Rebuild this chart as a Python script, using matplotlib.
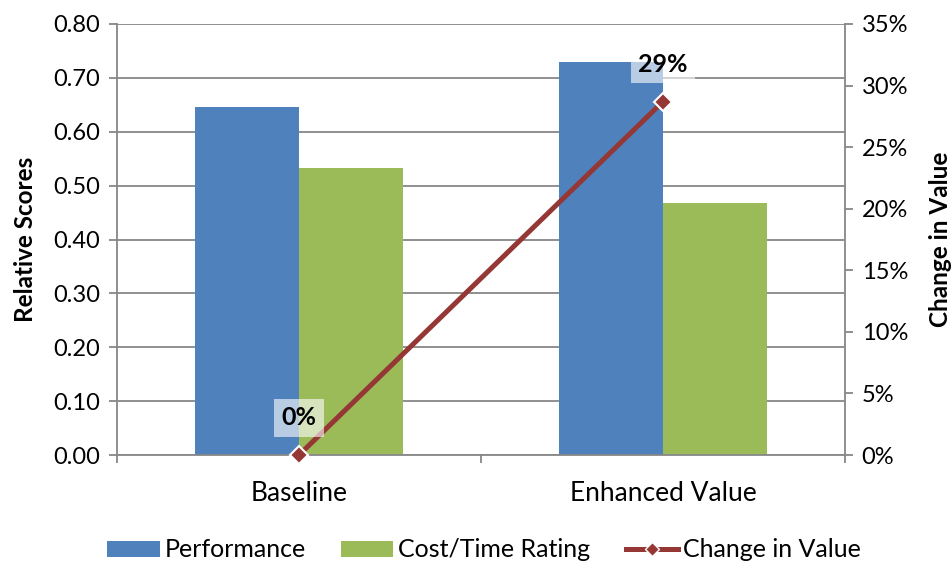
import numpy as np
import matplotlib
matplotlib.use('Agg')
import matplotlib.pyplot as plt
from matplotlib.lines import Line2D
from matplotlib.patches import Patch

plt.rcParams['font.family'] = ['Lato', 'DejaVu Sans']

categories = ['Baseline', 'Enhanced Value']
performance = [0.646, 0.730]
cost_time = [0.533, 0.468]
change_in_value = [0.0, 0.287]
change_labels = ['0%', '29%']

blue = '#4F81BD'
green = '#9BBB59'
red = '#953735'
grid_gray = '#878787'

fig = plt.figure(figsize=(9.53, 5.64), dpi=100)
ax = fig.add_axes([117 / 953, 109 / 564, 728 / 953, 431 / 564])
x = np.arange(len(categories))
w = 0.286

ax.bar(x - w / 2, performance, w, color=blue, zorder=2)
ax.bar(x + w / 2, cost_time, w, color=green, zorder=2)

ax.set_xlim(-0.5, 1.5)
ax.set_ylim(0, 0.8)
ax.set_yticks(np.arange(0, 0.81, 0.1))
ax.set_yticklabels([f'{v:.2f}' for v in np.arange(0, 0.81, 0.1)])
ax.yaxis.grid(True, color=grid_gray, lw=1.3, zorder=0)
ax.set_axisbelow(True)

# category labels sit between the boundary ticks
ax.set_xticks(x)
ax.set_xticklabels(categories)
ax.tick_params(axis='x', length=0, pad=19, labelsize=19)
ax.set_xticks([-0.5, 0.5, 1.5], minor=True)
ax.tick_params(axis='x', which='minor', length=6, width=1.3, color=grid_gray)
ax.tick_params(axis='y', length=6, width=1.3, color=grid_gray, labelsize=17, pad=6)

for side in ['top', 'right']:
    ax.spines[side].set_visible(False)
for side in ['left', 'bottom']:
    ax.spines[side].set_color(grid_gray)
    ax.spines[side].set_linewidth(1.3)
ax.set_ylabel('Relative Scores', fontsize=17.5, fontweight='bold', labelpad=12)

# secondary axis for the percentage change
ax2 = ax.twinx()
ax2.set_ylim(0, 0.35)
ax2.set_yticks(np.arange(0, 0.351, 0.05))
ax2.set_yticklabels([f'{v * 100:.0f}%' for v in np.arange(0, 0.351, 0.05)])
ax2.tick_params(axis='y', length=6, width=1.3, color=grid_gray, labelsize=17, pad=6)
for side in ['top', 'left', 'bottom']:
    ax2.spines[side].set_visible(False)
ax2.spines['right'].set_color(grid_gray)
ax2.spines['right'].set_linewidth(1.3)
ax2.set_ylabel('Change in Value', fontsize=17.5, fontweight='bold', labelpad=15)

ax2.plot(x, change_in_value, color=red, lw=3.6, marker='D', markersize=9,
         markerfacecolor=red, markeredgecolor='white', markeredgewidth=1.5,
         zorder=3, clip_on=False)

for xi, yi, lab in zip(x, change_in_value, change_labels):
    ax2.annotate(lab, (xi, yi), xytext=(0, 27), textcoords='offset points',
                 ha='center', va='center', fontsize=18, fontweight='bold',
                 bbox=dict(boxstyle='square,pad=0.3', facecolor='white',
                           edgecolor='none', alpha=0.6), zorder=4)

handles = [Patch(facecolor=blue, label='Performance'),
           Patch(facecolor=green, label='Cost/Time Rating'),
           Line2D([], [], color=red, lw=3.6, marker='D', markersize=7,
                  markerfacecolor=red, markeredgecolor='white',
                  label='Change in Value')]
fig.legend(handles=handles, loc='center', bbox_to_anchor=(0.508, 0.025),
           ncol=3, frameon=False, fontsize=18, handlelength=2.1,
           handleheight=0.6, columnspacing=1.4, handletextpad=0.2)

fig.savefig('out.png', dpi=100)
